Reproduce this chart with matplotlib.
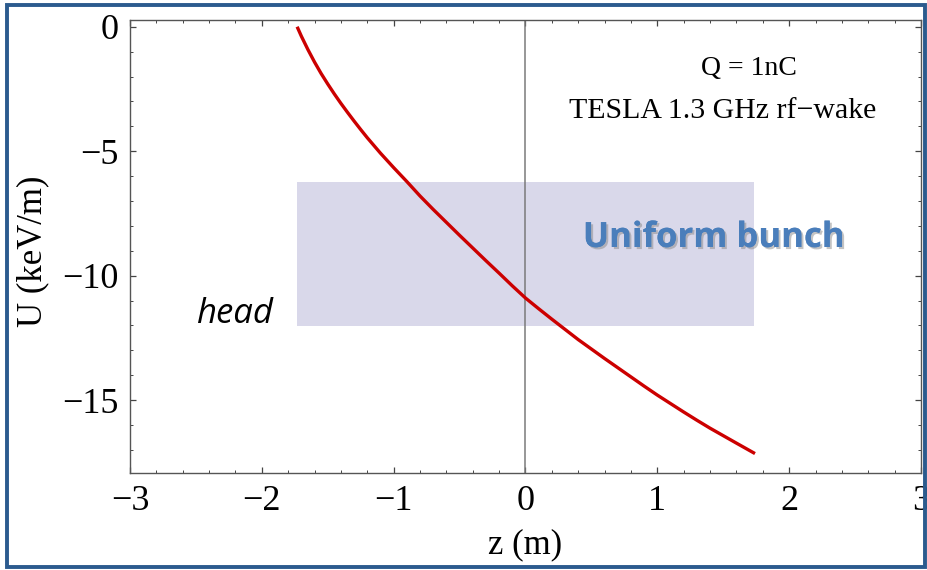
import matplotlib
matplotlib.use("Agg")
import matplotlib.pyplot as plt
from matplotlib.patches import Rectangle
import matplotlib.patheffects as pe
from matplotlib.ticker import MultipleLocator

# Data
z_vals = [-1.732, -1.70, -1.65, -1.60, -1.55, -1.50, -1.45, -1.40, -1.35, -1.30,
          -1.25, -1.20, -1.10, -1.00, -0.90, -0.80, -0.70, -0.60, -0.50, -0.40,
          -0.30, -0.20, -0.10, 0.00, 0.10, 0.20, 0.30, 0.40, 0.50, 0.60,
          0.70, 0.80, 0.90, 1.00, 1.10, 1.20, 1.30, 1.40, 1.50, 1.60, 1.741]
u_vals = [0.0, -0.38, -0.92, -1.42, -1.88, -2.30, -2.70, -3.08, -3.44, -3.79,
          -4.13, -4.46, -5.08, -5.66, -6.22, -6.80, -7.34, -7.86, -8.38, -8.89,
          -9.40, -9.90, -10.41, -10.90, -11.33, -11.75, -12.16, -12.57, -12.95, -13.33,
          -13.70, -14.07, -14.44, -14.80, -15.14, -15.48, -15.81, -16.13, -16.43, -16.73, -17.15]
bunch_z = [-1.73, 1.735]
bunch_u = [-12.02, -6.24]
x_ticks = [-3, -2, -1, 0, 1, 2, 3]
y_ticks = [0, -5, -10, -15]

serif = ["Liberation Serif", "DejaVu Serif"]
sans = ["Open Sans", "DejaVu Sans"]

fig = plt.figure(figsize=(9.27, 5.70), dpi=100)
ax = fig.add_axes([0.1402, 0.1702, 0.8533, 0.7947])

ax.add_patch(Rectangle((bunch_z[0], bunch_u[0]), bunch_z[1] - bunch_z[0],
                       bunch_u[1] - bunch_u[0], facecolor="#d9d8ea",
                       edgecolor="none", zorder=1))
ax.axvline(0, color="#7a7a7a", lw=1.1, zorder=2)
ax.plot(z_vals, u_vals, color="#cc0000", lw=2.4, zorder=3, solid_capstyle="butt",
        solid_joinstyle="round")

ax.set_xlim(-3, 3)
ax.set_ylim(-17.93, 0.27)
ax.set_xticks(x_ticks)
ax.set_yticks(y_ticks)
ax.xaxis.set_minor_locator(MultipleLocator(0.2))
ax.yaxis.set_minor_locator(MultipleLocator(1))
ax.set_xticklabels(["\u2212" + str(-t) if t < 0 else str(t) for t in x_ticks],
                   family=serif, fontsize=26)
ax.set_yticklabels(["\u2212" + str(-t) if t < 0 else str(t) for t in y_ticks],
                   family=serif, fontsize=26)
ax.tick_params(which="both", direction="in", top=True, right=True, color="#444444")
ax.tick_params(which="major", length=4.5, width=0.9)
ax.tick_params(which="minor", length=2.5, width=0.7)
ax.tick_params(axis="x", pad=9)
ax.tick_params(axis="y", pad=8)
for s in ax.spines.values():
    s.set_color("#555555")
    s.set_linewidth(1.0)

ax.set_xlabel("z (m)", family=serif, fontsize=25)
ax.xaxis.set_label_coords(0.5, -0.159)
ax.xaxis.label.set_va("center")
ax.set_ylabel("U (keV/m)", family=serif, fontsize=25)
ax.yaxis.set_label_coords(-0.1226, 0.49)
ax.yaxis.label.set_va("center")

ax.text(1.695, -1.94, "Q = 1nC", family=serif, fontsize=20, ha="center", va="baseline")
ax.text(1.498, -3.67, "TESLA 1.3 GHz rf\u2212wake", family=serif, fontsize=21.5,
        ha="center", va="baseline")
ax.text(-2.205, -11.9, "head", family=sans, style="italic",
        fontsize=25, ha="center", va="baseline")
ax.text(1.43, -8.85, "Uniform bunch", family=sans,
        fontweight="bold", fontsize=25, color="#4a7ebb", ha="center", va="baseline",
        path_effects=[pe.withSimplePatchShadow(offset=(1.5, -1.5), shadow_rgbFace="#888888", alpha=0.5),
                      pe.Normal()])

# outer frame
fig.patches.append(Rectangle((7 / 927, 3 / 570), 918 / 927, 562 / 570,
                             transform=fig.transFigure, fill=False,
                             edgecolor="#2b5b8e", lw=2.8))

fig.savefig("out.png", dpi=100)
